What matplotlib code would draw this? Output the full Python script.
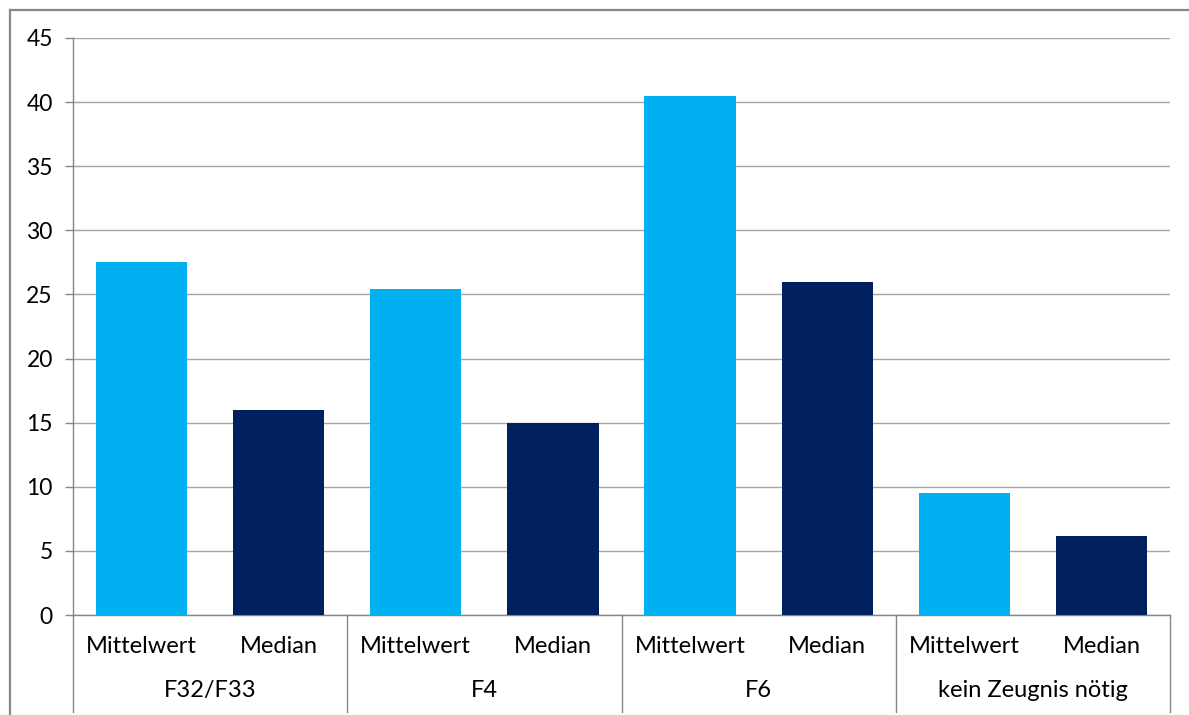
import matplotlib
matplotlib.use("Agg")
import matplotlib.pyplot as plt
from matplotlib.lines import Line2D
from matplotlib.transforms import blended_transform_factory

# Data -------------------------------------------------------------------
groups = ["F32/F33", "F4", "F6", "kein Zeugnis nötig"]
measures = ["Mittelwert", "Median"]
mittelwert = [27.5, 25.4, 40.5, 9.5]
median = [16.0, 15.0, 26.0, 6.2]
y_ticks = [0, 5, 10, 15, 20, 25, 30, 35, 40, 45]

LIGHT = "#00B0F0"
DARK = "#002060"
GRID = "#A6A6A6"

plt.rcParams["font.family"] = ["Lato", "DejaVu Sans"]

W, H = 1189, 715
fig = plt.figure(figsize=(W / 100, H / 100), dpi=100)
ax = fig.add_axes([73 / W, 1 - 615 / H, (1170 - 73) / W, (615 - 38) / H])

values, colors = [], []
for m, md in zip(mittelwert, median):
    values += [m, md]
    colors += [LIGHT, DARK]
xs = list(range(len(values)))
ax.bar(xs, values, width=0.665, color=colors, zorder=3)

ax.set_xlim(-0.5, len(values) - 0.5)
ax.set_ylim(0, 45)
ax.set_yticks(y_ticks)
ax.tick_params(axis="y", labelsize=16.5, length=5.5, width=1, color="#868686",
               pad=9)
ax.tick_params(axis="x", bottom=False, labelbottom=False)
ax.yaxis.grid(True, color=GRID, lw=1)
ax.set_axisbelow(True)
for s in ["top", "right"]:
    ax.spines[s].set_visible(False)
for s in ["left", "bottom"]:
    ax.spines[s].set_color("#868686")
    ax.spines[s].set_linewidth(1)

# two-level category axis
trans = blended_transform_factory(ax.transData, ax.transAxes)
for i, x in enumerate(xs):
    ax.text(x, -0.055, measures[i % 2], transform=trans, ha="center",
            va="center", fontsize=17)
for g, name in enumerate(groups):
    ax.text(2 * g + 0.5, -0.13, name, transform=trans, ha="center",
            va="center", fontsize=17)
for b in range(len(groups) + 1):
    xb = 2 * b - 0.5
    ax.plot([xb, xb], [0, -0.168], transform=trans, color="#868686", lw=1,
            clip_on=False)

# outer chart frame
fig.add_artist(Line2D([10 / W, 10 / W], [0, 1 - 10 / H], color="#878787",
                      lw=1.6, transform=fig.transFigure))
fig.add_artist(Line2D([10 / W, 1], [1 - 10 / H, 1 - 10 / H], color="#878787",
                      lw=1.6, transform=fig.transFigure))

fig.savefig("out.png", dpi=100)
